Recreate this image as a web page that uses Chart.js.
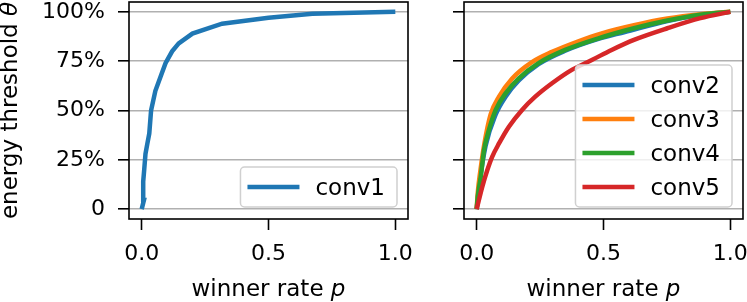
<!DOCTYPE html>
<html>
<head>
<meta charset="utf-8">
<script src="https://cdn.jsdelivr.net/npm/chart.js@4.4.0/dist/chart.umd.min.js"></script>
<style>
  html, body { margin: 0; padding: 0; background: #fff; overflow: hidden; }
  #wrap { position: relative; width: 747px; height: 302px; }
  canvas { position: absolute; top: 0; }
  #left { left: 0; }
  #right { left: 440px; }
</style>
</head>
<body>
<div id="wrap">
  <canvas id="left" width="420" height="302"></canvas>
  <canvas id="right" width="307" height="302"></canvas>
</div>
<script>
// data
const conv1P     = [0, 0.009, 0.006, 0.010, 0.015, 0.022, 0.030, 0.037, 0.054, 0.074, 0.094, 0.120, 0.146, 0.200, 0.317, 0.500, 0.673, 1.0];
const conv1Theta = [0, 0.046, 0.140, 0.200, 0.280, 0.330, 0.384, 0.500, 0.600, 0.670, 0.740, 0.800, 0.840, 0.890, 0.940, 0.970, 0.990, 1.0];

const conv2P     = [0, 0.010, 0.035, 0.075, 0.114, 0.166, 0.244, 0.349, 0.480, 0.584, 0.752, 0.882, 1.0];
const conv2Theta = [0, 0.120, 0.320, 0.480, 0.570, 0.652, 0.735, 0.803, 0.863, 0.898, 0.954, 0.984, 1.0];

const conv3P     = [0, 0.004, 0.015, 0.030, 0.055, 0.088, 0.140, 0.218, 0.297, 0.401, 0.490, 0.620, 0.752, 0.882, 1.0];
const conv3Theta = [0, 0.080, 0.200, 0.330, 0.480, 0.570, 0.662, 0.745, 0.797, 0.851, 0.890, 0.932, 0.966, 0.988, 1.0];

const conv4P     = [0, 0.004, 0.016, 0.029, 0.048, 0.075, 0.114, 0.166, 0.244, 0.349, 0.480, 0.620, 0.752, 0.882, 1.0];
const conv4Theta = [0, 0.060, 0.164, 0.300, 0.400, 0.503, 0.587, 0.663, 0.740, 0.807, 0.866, 0.917, 0.956, 0.985, 1.0];

const conv5P     = [0, 0.022, 0.042, 0.061, 0.088, 0.127, 0.179, 0.231, 0.297, 0.375, 0.454, 0.532, 0.620, 0.752, 0.882, 1.0];
const conv5Theta = [0, 0.113, 0.198, 0.265, 0.333, 0.418, 0.503, 0.570, 0.638, 0.706, 0.756, 0.807, 0.858, 0.917, 0.968, 1.0];

const xTickValues = [0, 0.5, 1];
const xTickLabels = ['0.0', '0.5', '1.0'];
const yTickValues = [0, 0.25, 0.5, 0.75, 1];
const yTickLabels = ['0', '25%', '50%', '75%', '100%'];

const FAMILY = '"DejaVu Sans", sans-serif';
const FONT = '23px ' + FAMILY;
const ITALIC = 'italic 23px ' + FAMILY;

function pts(xs, ys) {
    return xs.map((x, i) => ({ x: x, y: ys[i] }));
}

function drawParts(ctx, parts, cx, y) {
    const widths = parts.map(p => { ctx.font = p[1]; return ctx.measureText(p[0]).width; });
    let x = cx - widths.reduce((a, b) => a + b, 0) / 2;
    parts.forEach((p, i) => {
        ctx.font = p[1];
        ctx.fillText(p[0], x, y);
        x += widths[i];
    });
}

function noPadding(s) {
    s.paddingTop = 0;
    s.paddingBottom = 0;
    s.paddingLeft = 0;
    s.paddingRight = 0;
}

// frame, legend and axis titles (drawn the matplotlib way)
const decor = {
    id: 'decor',
    afterDatasetsDraw(chart, args, opts) {
        const ctx = chart.ctx;
        const a = chart.chartArea;
        ctx.save();
        ctx.strokeStyle = '#000';
        ctx.lineWidth = 1.6;
        ctx.strokeRect(a.left, a.top, a.right - a.left, a.bottom - a.top);

        const items = chart.data.datasets;
        ctx.font = FONT;
        const textW = Math.max(...items.map(d => ctx.measureText(d.label).width));
        const w = 75 + textW + 12;
        const h = items.length * 34 + 6;
        const x = a.right - 11 - w;
        const y = a.bottom - 12 - h;
        ctx.beginPath();
        ctx.roundRect(x, y, w, h, 4);
        ctx.fillStyle = 'rgba(255,255,255,0.8)';
        ctx.fill();
        ctx.strokeStyle = '#d0d0d0';
        ctx.lineWidth = 1.5;
        ctx.stroke();
        items.forEach((d, i) => {
            const cy = y + 20 + i * 34;
            ctx.beginPath();
            ctx.moveTo(x + 7, cy);
            ctx.lineTo(x + 59, cy);
            ctx.strokeStyle = d.borderColor;
            ctx.lineWidth = 4.5;
            ctx.stroke();
            ctx.fillStyle = '#000';
            ctx.textAlign = 'left';
            ctx.textBaseline = 'alphabetic';
            ctx.fillText(d.label, x + 75, cy + 8);
        });

        ctx.fillStyle = '#000';
        ctx.textAlign = 'left';
        ctx.textBaseline = 'alphabetic';
        drawParts(ctx, [['winner rate ', FONT], ['p', ITALIC]], (a.left + a.right) / 2, 296);
        if (opts.yTitle) {
            ctx.translate(17, (a.top + a.bottom) / 2);
            ctx.rotate(-Math.PI / 2);
            drawParts(ctx, [['energy threshold ', FONT], ['\u03b8', ITALIC]], 0, 0);
        }
        ctx.restore();
    }
};

function makeChart(id, datasets, yWidth, padRight, showYLabels) {
    return new Chart(document.getElementById(id), {
        type: 'line',
        data: { datasets: datasets },
        options: {
            responsive: false,
            animation: false,
            events: [],
            layout: { padding: { top: 2, right: padRight, left: 0, bottom: 0 } },
            elements: { point: { radius: 0 }, line: { borderWidth: 4.5, borderCapStyle: 'butt' } },
            plugins: {
                legend: { display: false },
                tooltip: { enabled: false },
                decor: { yTitle: showYLabels }
            },
            scales: {
                x: {
                    type: 'linear',
                    min: -0.05,
                    max: 1.05,
                    afterBuildTicks: s => { s.ticks = xTickValues.map(v => ({ value: v })); },
                    afterFit: s => { s.height = 83; noPadding(s); },
                    ticks: {
                        font: { family: FAMILY, size: 22 },
                        color: '#000',
                        padding: 11,
                        maxRotation: 0,
                        callback: (v, i) => xTickLabels[i]
                    },
                    grid: { drawOnChartArea: false, tickColor: '#000', tickWidth: 1.6, tickLength: 11 },
                    border: { display: false }
                },
                y: {
                    type: 'linear',
                    min: -0.05,
                    max: 1.05,
                    afterBuildTicks: s => { s.ticks = yTickValues.map(v => ({ value: v })); },
                    afterFit: s => { s.width = yWidth; noPadding(s); },
                    ticks: {
                        font: { family: FAMILY, size: 22 },
                        color: '#000',
                        padding: 13,
                        callback: (v, i) => showYLabels ? yTickLabels[i] : ''
                    },
                    grid: { color: '#b0b0b0', lineWidth: 1.6, tickColor: '#000', tickWidth: 1.6, tickLength: 11 },
                    border: { display: false }
                }
            }
        },
        plugins: [decor]
    });
}

makeChart('left', [
    { label: 'conv1', data: pts(conv1P, conv1Theta), borderColor: '#1f77b4', tension: 0 }
], 129, 12, true);

makeChart('right', [
    { label: 'conv2', data: pts(conv2P, conv2Theta), borderColor: '#1f77b4', cubicInterpolationMode: 'monotone', order: 3 },
    { label: 'conv3', data: pts(conv3P, conv3Theta), borderColor: '#ff7f0e', cubicInterpolationMode: 'monotone', order: 2 },
    { label: 'conv4', data: pts(conv4P, conv4Theta), borderColor: '#2ca02c', cubicInterpolationMode: 'monotone', order: 1 },
    { label: 'conv5', data: pts(conv5P, conv5Theta), borderColor: '#d62728', cubicInterpolationMode: 'monotone', order: 0 }
], 24, 4, false);
</script>
</body>
</html>
